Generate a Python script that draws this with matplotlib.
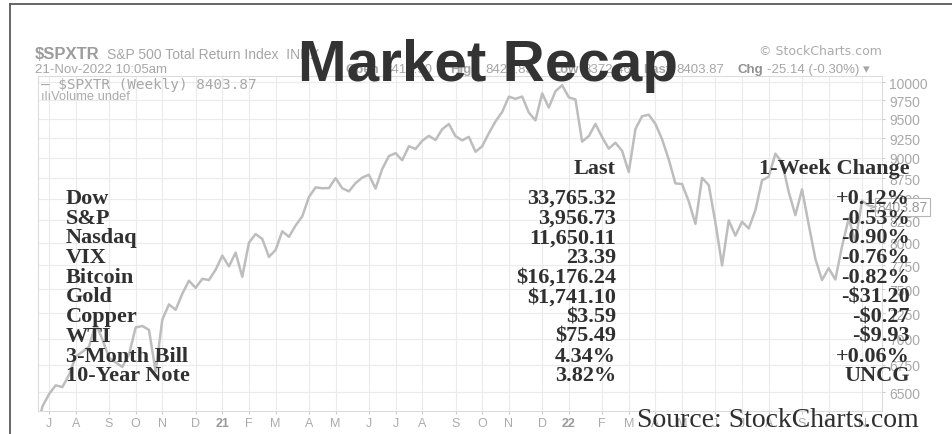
import matplotlib
matplotlib.use("Agg")
import matplotlib.pyplot as plt
import matplotlib.transforms as mtransforms
from matplotlib.lines import Line2D
from matplotlib.ticker import NullLocator
import pandas as pd

plt.rcParams["text.parse_math"] = False

W, H = 952, 435

# weekly $SPXTR closes, one per week (Monday of each week)
first_week = "2020-06-22"
spxtr = [
    6114, 6370, 6481, 6561, 6545, 6656, 6829, 6874, 6923, 7149,
    6995, 6819, 6774, 6731, 6847, 7110, 7125, 7086, 6687, 7188,
    7342, 7287, 7451, 7587, 7513, 7607, 7595, 7704,
    # 2021
    7857, 7740, 7889, 7629, 7999, 8096, 8041, 7843, 7918, 8127,
    8065, 8192, 8297, 8522, 8638, 8628, 8630, 8750, 8628, 8590,
    8690, 8756, 8791, 8624, 8862, 9022, 9059, 8970, 9146, 9111,
    9216, 9280, 9226, 9365, 9433, 9275, 9221, 9266, 9076, 9146,
    9313, 9467, 9592, 9798, 9769, 9800, 9585, 9480, 9843, 9651,
    9873, 9956,
    # 2022
    9789, 9760, 9205, 9276, 9434, 9262, 9116, 9191, 9087, 8824,
    9368, 9536, 9556, 9434, 9234, 8980, 8686, 8679, 8471, 8212,
    8753, 8666, 8227, 7751, 8250, 8078, 8235, 8159, 8368, 8723,
    8767, 9052, 8942, 8583, 8311, 8614, 8203, 7822, 7595, 7720,
    7600, 7958, 8274, 8010, 8481, 8422, 8404,
]
last_value = 8403.87

tick_dates = ["2020-07-06", "2020-08-03", "2020-09-07", "2020-10-05", "2020-11-02",
              "2020-12-07", "2021-01-04", "2021-02-01", "2021-03-01", "2021-04-05",
              "2021-05-03", "2021-06-07", "2021-07-05", "2021-08-02", "2021-09-06",
              "2021-10-04", "2021-11-01", "2021-12-06", "2022-01-03", "2022-02-07",
              "2022-03-07", "2022-04-04", "2022-05-02", "2022-06-06", "2022-07-04",
              "2022-08-01", "2022-09-05", "2022-10-03", "2022-11-07"]
tick_labels = ["J", "A", "S", "O", "N", "D", "21", "F", "M", "A", "M", "J", "J", "A", "S",
               "O", "N", "D", "22", "F", "M", "A", "M", "J", "J", "A", "S", "O", "N"]
y_ticks = [6500, 6750, 7000, 7250, 7500, 7750, 8000, 8250, 8500, 8750,
           9000, 9250, 9500, 9750, 10000]

names = ["Dow", "S&P", "Nasdaq", "VIX", "Bitcoin", "Gold", "Copper", "WTI",
         "3-Month Bill", "10-Year Note"]
last = ["33,765.32", "3,956.73", "11,650.11", "23.39", "$16,176.24", "$1,741.10",
        "$3.59", "$75.49", "4.34%", "3.82%"]
change = ["+0.12%", "-0.53%", "-0.90%", "-0.76%", "-0.82%", "-$31.20", "-$0.27",
          "-$9.93", "+0.06%", "UNCG"]

dates = pd.date_range(first_week, periods=len(spxtr), freq="7D")

fig = plt.figure(figsize=(W / 100, H / 100), dpi=100)
fig.patch.set_facecolor("white")
SANS = ["Liberation Sans", "DejaVu Sans"]


def px(x, y):
    return x / W, 1 - y / H


def ftext(x, y, s, **kw):
    return fig.text(*px(x, y), s, **kw)


ax = fig.add_axes([38 / W, (H - 412) / H, (882 - 38) / W, (412 - 77) / H])
ax.plot(dates, spxtr, color="#bdbdbd", lw=1.8, solid_joinstyle="round", zorder=3)
ax.set_yscale("log")
ax.set_ylim(6331, 10084)
ax.set_xlim(pd.Timestamp("2020-06-24 10:00"), pd.Timestamp("2022-11-28"))
ax.set_yticks(y_ticks)
ax.set_yticklabels([str(v) for v in y_ticks])
ax.yaxis.set_minor_locator(NullLocator())
ax.set_xticks(pd.to_datetime(tick_dates))
ax.set_xticklabels(tick_labels)
ax.xaxis.set_minor_locator(NullLocator())
ax.tick_params(axis="y", left=False, right=True, labelleft=False, labelright=True,
               labelsize=10, labelcolor="#a8a8a8", color="#cccccc", length=2, pad=3)
ax.tick_params(axis="x", labelsize=9, labelcolor="#ababab", color="#cccccc",
               length=2, pad=2)
for lab in ax.get_xticklabels():
    lab.set_family("Liberation Sans")
    if lab.get_text() in ("21", "22"):
        lab.set_fontweight("bold")
        lab.set_color("#9a9a9a")
for lab in ax.get_yticklabels():
    lab.set_family("Liberation Sans")
ax.grid(True, color="#ebebeb", lw=0.8)
ax.set_axisbelow(True)
for sp in ax.spines.values():
    sp.set_color("#dcdcdc")
    sp.set_linewidth(0.8)

# last value tag on the price axis
tr = mtransforms.blended_transform_factory(ax.transAxes, ax.transData)
ax.text(0.9945, last_value, "8403.87", transform=tr, ha="left", va="center",
        fontsize=10, color="#9a9a9a", family="Liberation Sans", clip_on=False,
        zorder=6, bbox=dict(boxstyle="square,pad=0.15", fc="white", ec="#b5b5b5", lw=0.8))
ax.text(0.984, last_value, "<", transform=tr, ha="left", va="center", fontsize=8,
        color="#b5b5b5", clip_on=False, zorder=6)

# legend inside the plot
ax.text(0.003, 0.975, "\u2014 $SPXTR (Weekly) 8403.87", transform=ax.transAxes,
        ha="left", va="center", fontsize=10.4, family="DejaVu Sans Mono", color="#a8a8a8")
ax.text(0.003, 0.94, "\u0131l\u0131Volume undef", transform=ax.transAxes,
        ha="left", va="center", fontsize=9.3, family="Liberation Sans", color="#ababab")

# chart header (partly hidden by the title)
hdr = dict(family=SANS, color="#a6a6a6", va="baseline", zorder=2, fontsize=9.5)
bold = dict(hdr, fontweight="bold")
ftext(35, 59, "$SPXTR", **dict(bold, fontsize=12, color="#9c9c9c"))
ftext(107, 59, "S&P 500 Total Return Index  INDX", **dict(hdr, fontsize=10))
ftext(35, 73, "21-Nov-2022 10:05am", **hdr)
ftext(345, 73, "Open", **bold)
ftext(384, 73, "8412.90", **hdr)
ftext(450, 73, "High", **bold)
ftext(485, 73, "8422.85", **hdr)
ftext(552, 73, "Low", **bold)
ftext(583, 73, "8372.46", **hdr)
ftext(643, 73, "Last", **bold)
ftext(676, 73, "8403.87", **hdr)
ftext(738, 73, "Chg", **dict(bold, color="#8f8f8f"))
ftext(767, 73, "-25.14 (-0.30%) \u25be", **hdr)
ftext(882, 55, "\u00a9 StockCharts.com", fontsize=9, ha="right", color="#ababab",
      family="DejaVu Sans", va="baseline")

# big title
ftext(488, 81, "Market Recap", fontsize=42, fontweight="bold", family="Liberation Sans",
      color="#333333", ha="center", va="baseline", zorder=10)

# overlay table
tbl = dict(family="Liberation Serif", fontweight="bold", fontsize=16,
           color="#303030", va="baseline", zorder=10)
ftext(616, 174, "Last", ha="right", **tbl)
ftext(910, 174, "1-Week Change", ha="right", **tbl)
for i, (n, l, c) in enumerate(zip(names, last, change)):
    y = 204 + i * 19.7
    ftext(66, y, n, ha="left", **tbl)
    ftext(616, y, l, ha="right", **tbl)
    ftext(910, y, c, ha="right", **tbl)

ftext(778, 427, "Source: StockCharts.com", family="Liberation Serif", fontsize=20,
      color="#2e2e2e", ha="center", va="baseline", zorder=10)

# outer frame
fig.add_artist(Line2D([10 / W, 1.0], [1 - 5 / H, 1 - 5 / H], transform=fig.transFigure,
                      color="#5a5a5a", lw=1.3))
fig.add_artist(Line2D([10 / W, 10 / W], [0, 1 - 5 / H], transform=fig.transFigure,
                      color="#5a5a5a", lw=1.3))

fig.savefig("out.png", dpi=100)
